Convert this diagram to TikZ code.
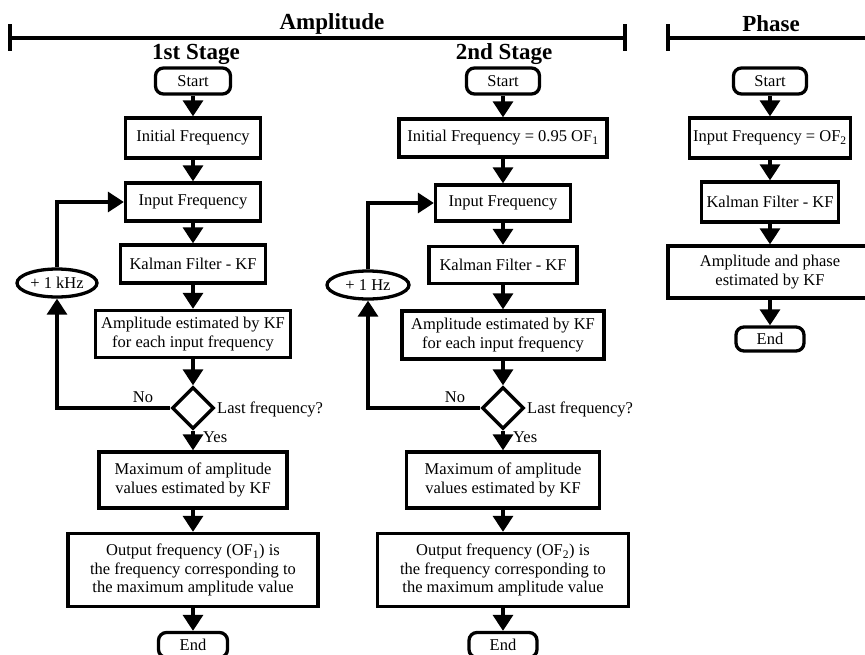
\documentclass[tikz,border=0pt]{standalone}
\usepackage{fontspec}
\setmainfont{Liberation Serif}
\usetikzlibrary{shapes.geometric,arrows.meta}
\begin{document}
\begin{tikzpicture}[x=1pt,y=-1pt,
  box/.style={draw,line width=3.3pt,rectangle,align=center,font=\fontsize{16.5}{18.5}\selectfont,inner sep=2pt},
  term/.style={box,rounded corners=8pt},
  dec/.style={draw,line width=3.3pt,diamond,aspect=1,minimum width=42pt,minimum height=42pt,inner sep=0pt},
  incr/.style={draw,line width=3.3pt,ellipse,minimum width=80pt,minimum height=28pt,inner sep=0pt,font=\fontsize{16.5}{18.5}\selectfont},
  arr/.style={line width=3.3pt,-{Triangle[length=16pt,width=20pt]}},
  lbl/.style={font=\fontsize{16.5}{18.5}\selectfont,inner sep=0pt},
  title/.style={font=\fontsize{23}{25}\selectfont\bfseries,inner sep=0pt},
  bar/.style={line width=3.3pt}
]
\useasboundingbox (0,0) rectangle (865,654);
\clip (0,0) rectangle (865,654);

% ---- headers ----
\node[title] (tA) at (332,24) {Amplitude};
\node[title] (tP) at (771,24) {Phase};
\node[title] (t1) at (196,54) {1st Stage};
\node[title] (t2) at (504,54) {2nd Stage};
\draw[bar] (10,38) -- (625,38);
\draw[bar] (10,24) -- (10,51);
\draw[bar] (625,24) -- (625,51);
\draw[bar] (668,38) -- (870,38);
\draw[bar] (668,24) -- (668,51);

% ---- 1st stage ----
\node[term,minimum width=75pt,minimum height=26pt] (s1) at (193,81) {Start};
\node[box,minimum width=135pt,minimum height=40pt] (i1) at (193,138) {Initial Frequency};
\node[box,minimum width=135pt,minimum height=38pt] (n1) at (193,202) {Input Frequency};
\node[box,minimum width=145pt,minimum height=38pt] (k1) at (193,264) {Kalman Filter - KF};
\node[box,minimum width=195pt,minimum height=47pt] (a1) at (193,334) {Amplitude estimated by KF\\for each input frequency};
\node[dec] (d1) at (193,408) {};
\node[box,minimum width=188pt,minimum height=56pt] (m1) at (193,480) {Maximum of amplitude\\values estimated by KF};
\node[box,minimum width=250pt,minimum height=73pt] (o1) at (193,570) {Output frequency (OF\textsubscript{1}) is\\the frequency corresponding to\\the maximum amplitude value};
\node[term,minimum width=69pt,minimum height=25pt] (e1) at (193,645) {End};
\node[incr] (p1) at (57,283) {+ 1 kHz};
\node[lbl] (no1) at (143,397) {No};
\node[lbl,anchor=west] (q1) at (217,409) {Last frequency?};
\node[lbl,anchor=west] (y1) at (203,437) {Yes};

\draw[arr] (s1) -- (i1);
\draw[arr] (i1) -- (n1);
\draw[arr] (n1) -- (k1);
\draw[arr] (k1) -- (a1);
\draw[arr] (a1) -- (d1);
\draw[arr] (d1) -- (m1);
\draw[arr] (m1) -- (o1);
\draw[arr] (o1) -- (e1);
\draw[arr] (d1.west) -| (p1.south);
\draw[arr] (p1.north) |- (n1.west);

% ---- 2nd stage ----
\node[term,minimum width=73pt,minimum height=26pt] (s2) at (503,81) {Start};
\node[box,minimum width=208pt,minimum height=38pt] (i2) at (503,138) {Initial Frequency = 0.95 OF\textsubscript{1}};
\node[box,minimum width=135pt,minimum height=36pt] (n2) at (503,203) {Input Frequency};
\node[box,minimum width=148pt,minimum height=37pt] (k2) at (503,265) {Kalman Filter - KF};
\node[box,minimum width=202pt,minimum height=48pt] (a2) at (503,335) {Amplitude estimated by KF\\for each input frequency};
\node[dec] (d2) at (503,408) {};
\node[box,minimum width=193pt,minimum height=56pt] (m2) at (503,480) {Maximum of amplitude\\values estimated by KF};
\node[box,minimum width=251pt,minimum height=73pt] (o2) at (503,570) {Output frequency (OF\textsubscript{2}) is\\the frequency corresponding to\\the maximum amplitude value};
\node[term,minimum width=68pt,minimum height=25pt] (e2) at (503,645) {End};
\node[incr,minimum width=82pt] (p2) at (368,285) {+ 1 Hz};
\node[lbl] (no2) at (455,397) {No};
\node[lbl,anchor=west] (q2) at (527,409) {Last frequency?};
\node[lbl,anchor=west] (y2) at (513,437) {Yes};

\draw[arr] (s2) -- (i2);
\draw[arr] (i2) -- (n2);
\draw[arr] (n2) -- (k2);
\draw[arr] (k2) -- (a2);
\draw[arr] (a2) -- (d2);
\draw[arr] (d2) -- (m2);
\draw[arr] (m2) -- (o2);
\draw[arr] (o2) -- (e2);
\draw[arr] (d2.west) -| (p2.south);
\draw[arr] (p2.north) |- (n2.west);

% ---- phase ----
\node[term,minimum width=73pt,minimum height=26pt] (s3) at (770,81) {Start};
\node[box,minimum width=161pt,minimum height=40pt] (n3) at (770,138) {Input Frequency = OF\textsubscript{2}};
\node[box,minimum width=137pt,minimum height=40pt] (k3) at (770,202) {Kalman Filter - KF};
\node[box,minimum width=204pt,minimum height=52pt] (a3) at (770,272) {Amplitude and phase\\estimated by KF};
\node[term,minimum width=68pt,minimum height=24pt] (e3) at (770,339) {End};
\draw[arr] (s3) -- (n3);
\draw[arr] (n3) -- (k3);
\draw[arr] (k3) -- (a3);
\draw[arr] (a3) -- (e3);
\end{tikzpicture}
\end{document}
